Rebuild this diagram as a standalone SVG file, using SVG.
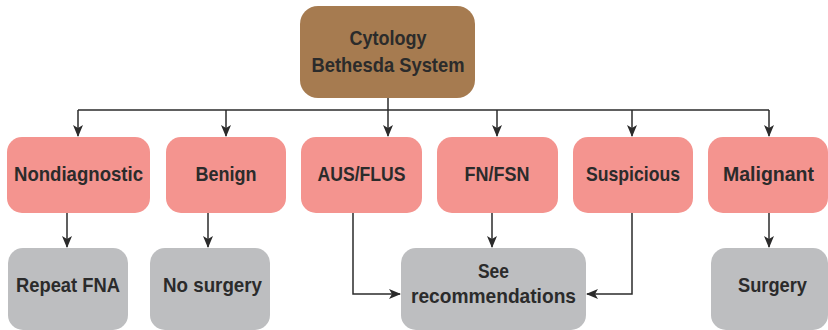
<svg xmlns="http://www.w3.org/2000/svg" width="828" height="330" viewBox="0 0 828 330">
  <defs>
    <marker id="arrow" viewBox="0 0 12 10" refX="11" refY="5" markerWidth="12" markerHeight="10" markerUnits="userSpaceOnUse" orient="auto">
      <path d="M0,0 L12,5 L0,10 L3,5 z" fill="#2b2b2b"/>
    </marker>
    <style>
      .root rect { fill: #a67b50; }
      .cat rect { fill: #f4948f; }
      .out rect { fill: #bdbec0; }
      text { font-family: "Liberation Sans", Arial, sans-serif; font-weight: bold; font-size: 20.5px; fill: #2b2b2b; text-anchor: middle; }
      .links path { fill: none; stroke: #2b2b2b; stroke-width: 1.5; }
      .links .arr { marker-end: url(#arrow); }
    </style>
  </defs>

  <!-- connectors -->
  <g class="links">
    <path d="M388,98 V110"/>
    <path d="M78,110 H769"/>
    <path class="arr" d="M78,110 V136"/>
    <path class="arr" d="M226,110 V136"/>
    <path class="arr" d="M388,110 V136"/>
    <path class="arr" d="M497,110 V136"/>
    <path class="arr" d="M632,110 V136"/>
    <path class="arr" d="M769,110 V136"/>
    <path class="arr" d="M67,213 V247"/>
    <path class="arr" d="M208,213 V247"/>
    <path class="arr" d="M492,213 V247"/>
    <path class="arr" d="M769,213 V247"/>
    <path class="arr" d="M353,213 V294 H400"/>
    <path class="arr" d="M632,213 V294 H587"/>
  </g>

  <!-- root -->
  <g id="bethesda" class="root">
    <rect x="300" y="6" width="175" height="92" rx="18"/>
    <text x="388" y="45" textLength="77" lengthAdjust="spacingAndGlyphs">Cytology</text>
    <text x="388" y="72" textLength="153" lengthAdjust="spacingAndGlyphs">Bethesda System</text>
  </g>

  <!-- diagnostic categories -->
  <g id="nondiagnostic" class="cat">
    <rect x="7" y="137" width="143" height="76" rx="15"/>
    <text x="78.5" y="181" textLength="129" lengthAdjust="spacingAndGlyphs">Nondiagnostic</text>
  </g>
  <g id="benign" class="cat">
    <rect x="166" y="137" width="120" height="76" rx="15"/>
    <text x="226" y="181" textLength="61" lengthAdjust="spacingAndGlyphs">Benign</text>
  </g>
  <g id="aus-flus" class="cat">
    <rect x="301" y="137" width="121" height="76" rx="15"/>
    <text x="361.5" y="181" textLength="88" lengthAdjust="spacingAndGlyphs">AUS/FLUS</text>
  </g>
  <g id="fn-fsn" class="cat">
    <rect x="437" y="137" width="121" height="76" rx="15"/>
    <text x="497" y="181" textLength="65" lengthAdjust="spacingAndGlyphs">FN/FSN</text>
  </g>
  <g id="suspicious" class="cat">
    <rect x="573" y="137" width="120" height="76" rx="15"/>
    <text x="633" y="181" textLength="94" lengthAdjust="spacingAndGlyphs">Suspicious</text>
  </g>
  <g id="malignant" class="cat">
    <rect x="708" y="137" width="120" height="76" rx="15"/>
    <text x="768.5" y="181" textLength="91" lengthAdjust="spacingAndGlyphs">Malignant</text>
  </g>

  <!-- management -->
  <g id="repeat-fna" class="out">
    <rect x="8" y="248" width="120" height="82" rx="15"/>
    <text x="68" y="292" textLength="104" lengthAdjust="spacingAndGlyphs">Repeat FNA</text>
  </g>
  <g id="no-surgery" class="out">
    <rect x="150" y="248" width="120" height="82" rx="15"/>
    <text x="212.5" y="292" textLength="99" lengthAdjust="spacingAndGlyphs">No surgery</text>
  </g>
  <g id="see-recommendations" class="out">
    <rect x="401" y="248" width="185" height="82" rx="15"/>
    <text x="493.5" y="278" textLength="31" lengthAdjust="spacingAndGlyphs">See</text>
    <text x="493.5" y="303" textLength="165" lengthAdjust="spacingAndGlyphs">recommendations</text>
  </g>
  <g id="surgery" class="out">
    <rect x="711" y="248" width="117" height="82" rx="15"/>
    <text x="772.5" y="292" textLength="69" lengthAdjust="spacingAndGlyphs">Surgery</text>
  </g>
</svg>
